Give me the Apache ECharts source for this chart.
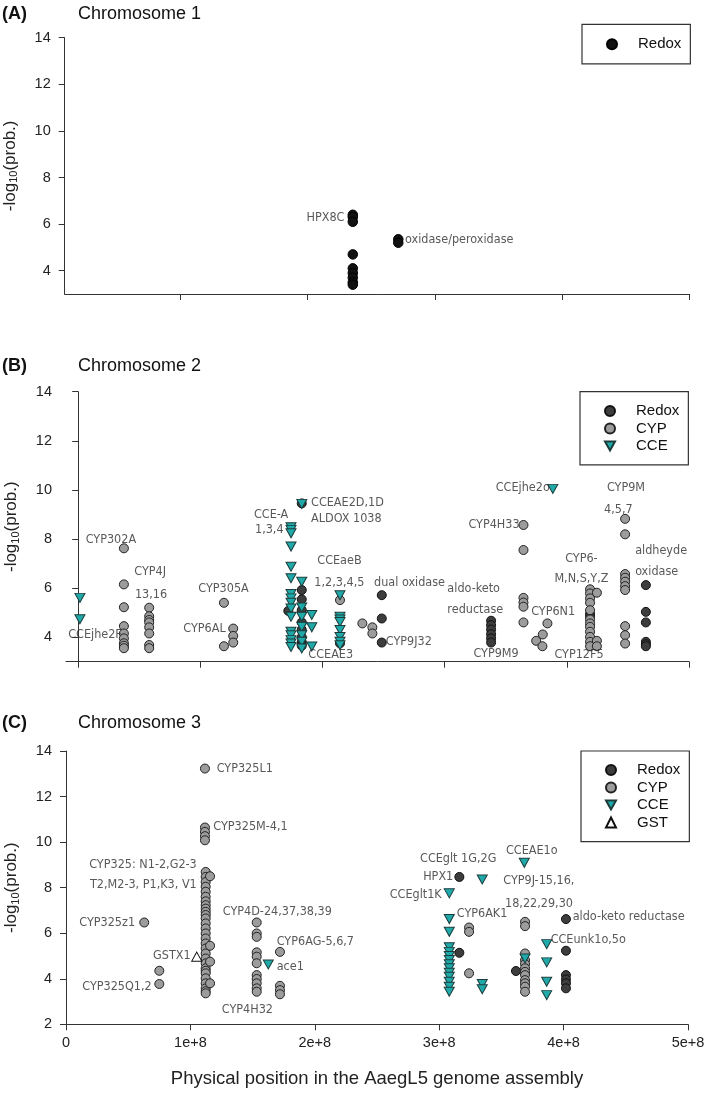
<!DOCTYPE html>
<html><head><meta charset="utf-8">
<script src="https://cdn.jsdelivr.net/npm/echarts@6/dist/echarts.min.js"></script>
<style>html,body{margin:0;padding:0;background:#fff}#c{width:709px;height:1094px}</style>
</head><body><div id="c"></div>
<script>
// x positions in Mb (converted to bp for the axes); y = -log10(prob.)
// Each entry: [x in Mb, [y values at that position]]
const panelA_redox = [[235.6,[6.4,6.3,6.1,4.7,4.1,3.9,3.7,3.5,3.4]],[271.3,[5.35,5.2]]];
const panelA_labels = [[229,6.26,'HPX8C','r'],[276.6,5.32,'oxidase/peroxidase','l']];

const panelB_redox = [
  [172,[5.07]],
  [183,[9.45,5.92,5.54,5.1,4.6,4.3,4.0,3.8,3.65]],
  [214.3,[3.75]],
  [248.5,[5.71,4.76,3.78]],
  [338,[4.67,4.49,4.31,4.12,3.95,3.78]],
  [419,[4.95,4.85]],
  [464.7,[6.12,5.03,4.6,3.81,3.71,3.63]]
];
const panelB_cyp = [
  [37.4,[7.62,6.15,5.22,4.45,4.15,3.95,3.75,3.65,3.55]],
  [58.1,[5.2,4.85,4.7,4.6,4.4,4.15,3.68,3.55]],
  [119.3,[5.4,3.63]],
  [126.9,[4.35,4.05,3.78]],
  [214.3,[5.51]],
  [232.6,[4.56]],
  [240.8,[4.4,4.15]],
  [364.5,[8.57,7.55,5.6,5.41,5.24,4.6]],
  [384.1,[4.56]],[380.3,[4.11]],[374.9,[3.85]],[380,[3.63]],
  [419,[5.95,5.78,5.58,5.4,5.1,4.72,4.56,4.42,4.22,4.01,3.81,3.63]],
  [424.6,[5.81,3.85,3.63]],
  [447.7,[8.82,8.19,6.57,6.42,6.26,6.08,5.92,4.45,4.08,3.74]]
];
const panelB_cce = [
  [1.4,[5.6,4.73]],
  [174.2,[8.48,8.37,8.23,7.69,6.87,6.4,5.76,5.58,5.4,5.17,4.83,4.22,4.08,3.88,3.74,3.6]],
  [183,[9.43,6.26,5.21,4.83,4.42,4.08,3.81,3.54]],
  [191.2,[4.9,4.4,3.62]],
  [214.3,[5.71,4.83,4.72,4.62,4.29,4.01,3.81,3.67]],
  [388.5,[10.04]]
];
const panelB_labels = [
  [-8.2,4.08,'CCEjhe2F','l'],[6.1,7.96,'CYP302A','l'],[45.9,6.67,'CYP4J','l'],[46.4,5.71,'13,16','l'],
  [98.3,5.99,'CYP305A','l'],[86,4.36,'CYP6AL','l'],[143.9,8.98,'CCE-A','l'],[144.7,8.37,'1,3,4','l'],
  [190.6,9.48,'CCEAE2D,1D','l'],[190.6,8.84,'ALDOX 1038','l'],[195.7,7.11,'CCEaeB','l'],[193.3,6.22,'1,2,3,4,5','l'],
  [188.4,3.27,'CCEAE3','l'],[242.2,6.22,'dual oxidase','l'],[251.8,3.81,'CYP9J32','l'],
  [302.2,5.99,'aldo-keto','l'],[302.2,5.13,'reductase','l'],[323.5,3.33,'CYP9M9','l'],
  [341.8,10.07,'CCEjhe2o','l'],[319.4,8.57,'CYP4H33','l'],[370.8,5.03,'CYP6N1','l'],
  [398.6,7.21,'CYP6-','l'],[389.8,6.36,'M,N,S,Y,Z','l'],[389.8,3.27,'CYP12F5','l'],
  [432.8,10.07,'CYP9M','l'],[430.5,9.21,'4,5,7','l'],[455.9,7.51,'aldheyde','l'],[455.9,6.67,'oxidase','l']
];

const panelC_redox = [
  [316.2,[8.47,5.14]],
  [361.7,[4.34]],
  [401.9,[6.62,5.23,4.16,3.97,3.8,3.58]]
];
const panelC_cyp = [
  [111.7,[13.23,10.64,10.45,10.26,10.08]],
  [112.3,[8.69,8.47,8.25,8.04,7.82,7.6,7.4,7.23,7.08,6.94,6.8,6.65,6.43,6.21,5.99,5.77,5.55,5.33,5.11,4.89,4.68,4.46,4.35,4.24,4.02,3.8,3.58,3.45,3.36]],
  [115.8,[8.5,5.45,4.75,3.8]],
  [62.9,[6.47]],
  [75,[4.35,3.77]],
  [153.3,[6.47,5.99,5.84,5.16,4.97,4.68,4.16,3.99,3.8,3.58,3.43]],
  [172,[5.18,3.69,3.5,3.32]],
  [324,[6.25,6.06,4.24]],
  [369,[6.5,6.31,5.11,4.82,4.65,4.46,4.3,4.16,3.94,3.8,3.65,3.43]]
];
const panelC_cce = [
  [308.1,[7.75,6.62,6.06,5.38,5.18,5.0,4.82,4.64,4.46,4.26,4.09,3.87,3.65,3.43]],
  [334.6,[8.36,3.77,3.54]],
  [368.4,[9.09]],
  [369,[4.89]],
  [162.6,[4.63]],
  [386.4,[5.52,4.72,3.87,3.28]]
];
const panelC_gst = [[105.1,[4.97]]];
const panelC_labels = [
  [121.1,13.23,'CYP325L1','l'],[118.4,10.67,'CYP325M-4,1','l'],
  [105.1,9.02,'CYP325: N1-2,G2-3','r'],[105.1,8.14,'T2,M2-3, P1,K3, V1','r'],
  [55.5,6.47,'CYP325z1','r'],[68.9,3.65,'CYP325Q1,2','r'],[100.2,5.01,'GSTX1','r'],
  [126,6.94,'CYP4D-24,37,38,39','l'],[169.4,5.62,'CYP6AG-5,6,7','l'],[169.4,4.53,'ace1','l'],
  [125.2,2.63,'CYP4H32','l'],[284.6,9.28,'CCEglt 1G,2G','l'],[311.3,8.47,'HPX1','r'],
  [302,7.67,'CCEglt1K','r'],[314.1,6.84,'CYP6AK1','l'],[353.7,9.64,'CCEAE1o','l'],
  [351.5,8.3,'CYP9J-15,16,','l'],[352.9,7.31,'18,22,29,30','l'],
  [407.3,6.72,'aldo-keto reductase','l'],[389.6,5.7,'CCEunk1o,5o','l']
];

const yTicksAB = [4,6,8,10,12,14];
const xTicksA = [1e8,2e8,3e8,4e8,5e8];
const xTicksB = [0,1e8,2e8,3e8,4e8,5e8];
const panelTitles = [['(A)','Chromosome 1'],['(B)','Chromosome 2'],['(C)','Chromosome 3']];
const xAxisTitle = 'Physical position in the AaegL5 genome assembly';

const FONT = "'Liberation Sans', Arial, sans-serif";
const ANNO = "'DejaVu Sans Condensed', 'Liberation Sans Narrow', sans-serif";
const MB = 1e6;
const ZW = '\u200b'; // invisible suffix keeps per-panel legend names distinct

function pts(cols){ const out=[]; cols.forEach(c=>c[1].forEach(y=>out.push([c[0]*MB,y]))); return out; }
function labelSeries(labels, gi){
  return {type:'scatter', xAxisIndex:gi, yAxisIndex:gi, symbolSize:0, silent:true, clip:false, z:5,
    data: labels.map(l=>({value:[l[0]*MB,l[1]], label:{show:true, formatter:l[2], position:l[3]==='r'?'left':'right', distance:0}})),
    label:{show:true, fontFamily:ANNO, fontSize:12.5, color:'#2e2e2e'}};
}
const circ = (name, gi, cols, color, border, size) => ({type:'scatter', name, xAxisIndex:gi, yAxisIndex:gi, data:pts(cols),
  symbol:'circle', symbolSize:size||9, itemStyle:{color, borderColor:border, borderWidth:1, opacity:1}, z:2});
const tri = (name, gi, cols, down, color, border) => ({type:'scatter', name, xAxisIndex:gi, yAxisIndex:gi, data:pts(cols),
  symbol:'triangle', symbolRotate: down?180:0, symbolSize:[10,9], itemStyle:{color, borderColor:border, borderWidth:1, opacity:1}, z:3});

const REDOX='#3d3d3d', CYP='#9c9c9c', CCE='#1fa9a9';
const DOWN = 'path://M0,0L10,0L5,9Z';
const axisLine = {show:true, lineStyle:{color:'#333', width:1}};
const tick = {show:true, inside:false, length:6, lineStyle:{color:'#333'}};

function yAxis(gi, min, custom){
  const ax = {type:'value', gridIndex:gi, min, max:14, axisLine, splitLine:{show:false},
    axisTick: Object.assign({}, tick), axisLabel:{fontFamily:FONT, fontSize:14.5, color:'#222', margin:14},
    name:'-log{s|10}(prob.)', nameLocation:'middle', nameGap:45, nameRotate:90,
    nameTextStyle:{fontFamily:FONT, fontSize:17, color:'#222', rich:{s:{fontFamily:FONT, fontSize:11, color:'#222', verticalAlign:'bottom', padding:[8,0,0,0]}}}};
  if (custom){ ax.axisTick.customValues = custom; ax.axisLabel.customValues = custom; }
  else { ax.interval = 2; }
  return ax;
}
function legend(names, left, top, padTop, padBottom){
  return {data:names, orient:'vertical', left, top, padding:[padTop,9,padBottom,24], itemGap:0,
    itemWidth:10, itemHeight:10, borderColor:'#333', borderWidth:1.2, borderRadius:0, selectedMode:false,
    textStyle:{fontFamily:FONT, fontSize:15, color:'#111', lineHeight:17.5, padding:[0,0,0,16]}};
}
const titles = [];
[[15],[367],[724]].forEach((t,i)=>{
  titles.push({text:panelTitles[i][0], left:2, top:t[0]-10, padding:0, textStyle:{fontFamily:FONT, fontSize:18, fontWeight:'bold', color:'#111'}});
  titles.push({text:panelTitles[i][1], left:78, top:t[0]-10, padding:0, textStyle:{fontFamily:FONT, fontSize:18, fontWeight:'normal', color:'#111'}});
});

const option = {
  animation:false, backgroundColor:'#fff',
  title: titles,
  grid:[
    {left:64.7, width:625, top:37.7, height:256.3, containLabel:false, outerBoundsMode:'none'},
    {left:66, width:623, top:391.7, height:270, containLabel:false, outerBoundsMode:'none'},
    {left:66, width:622, top:751, height:273.3, containLabel:false, outerBoundsMode:'none'}
  ],
  xAxis:[
    {type:'value', gridIndex:0, min:9.5e6, max:5e8, axisLine, splitLine:{show:false}, axisTick:Object.assign({customValues:xTicksA}, tick), axisLabel:{show:false}},
    {type:'value', gridIndex:1, min:-1e7, max:5e8, axisLine, splitLine:{show:false}, axisTick:Object.assign({customValues:xTicksB}, tick), axisLabel:{show:false}},
    {type:'value', gridIndex:2, min:0, max:5e8, interval:1e8, axisLine, splitLine:{show:false}, axisTick:tick,
      axisLabel:{fontFamily:FONT, fontSize:14.5, color:'#222', margin:11, formatter:v=> v===0?'0':(v/1e8)+'e+8'},
      name:xAxisTitle, nameLocation:'middle', nameGap:45, nameTextStyle:{fontFamily:FONT, fontSize:18.5, color:'#222'}}
  ],
  yAxis:[ yAxis(0,3,yTicksAB), yAxis(1,3,yTicksAB), yAxis(2,2,null) ],
  legend:[
    legend(['Redox'], 582, 24.3, 11.2, 10.9),
    legend(['Redox'+ZW,'CYP',{name:'CCE', icon:DOWN}], 580, 391.7, 10.5, 10.2),
    legend(['Redox'+ZW+ZW,'CYP'+ZW,{name:'CCE'+ZW, icon:DOWN},'GST'], 581, 751, 10.3, 10.4)
  ],
  series:[
    circ('Redox',0,panelA_redox,'#111','#000',9.5),
    labelSeries(panelA_labels,0),
    circ('Redox'+ZW,1,panelB_redox,REDOX,'#111'),
    circ('CYP',1,panelB_cyp,CYP,'#222'),
    tri('CCE',1,panelB_cce,true,CCE,'#1c3c3c'),
    labelSeries(panelB_labels,1),
    circ('Redox'+ZW+ZW,2,panelC_redox,REDOX,'#111'),
    circ('CYP'+ZW,2,panelC_cyp,CYP,'#222'),
    tri('CCE'+ZW,2,panelC_cce,true,CCE,'#1c3c3c'),
    tri('GST',2,panelC_gst,false,'#fff','#111'),
    labelSeries(panelC_labels,2)
  ]
};
const chart = echarts.init(document.getElementById('c'), null, {renderer:'canvas'});
chart.setOption(option);
</script></body></html>
